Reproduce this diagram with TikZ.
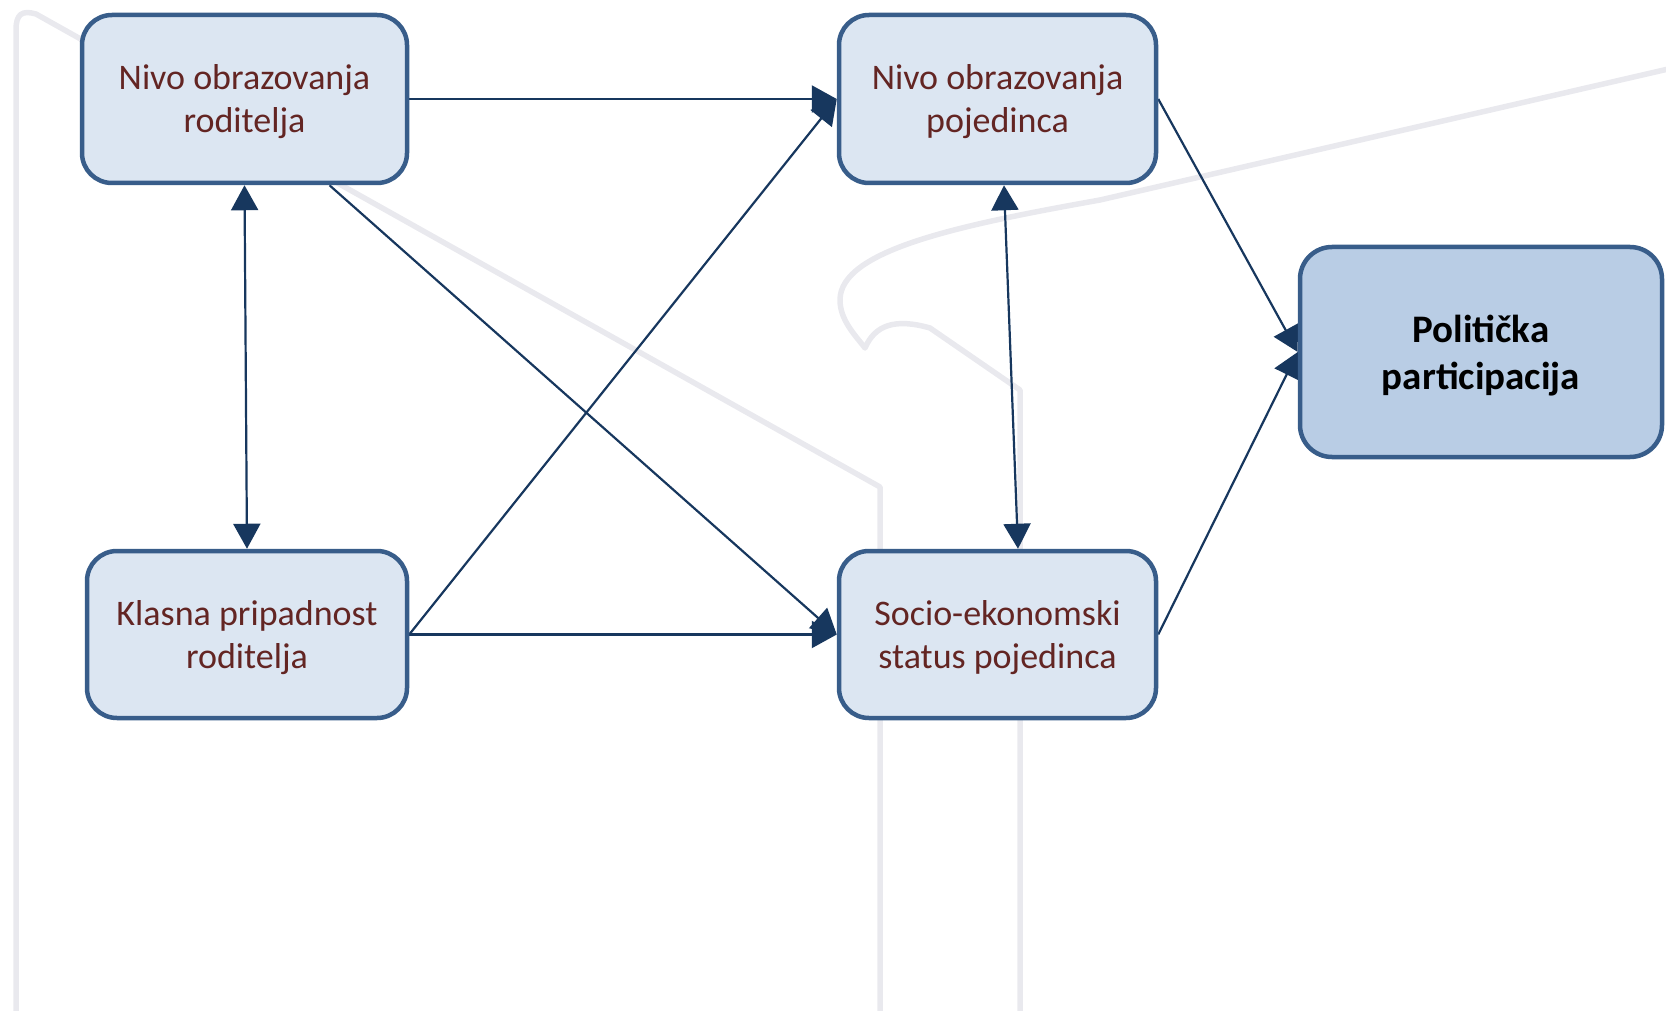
\documentclass[tikz,border=0pt]{standalone}
\usepackage{fontspec}
\setmainfont{Carlito}
\usetikzlibrary{arrows.meta}
\definecolor{boxborder}{HTML}{385D8A}
\definecolor{boxfill}{HTML}{DCE6F2}
\definecolor{keyfill}{HTML}{B9CDE5}
\definecolor{txt}{HTML}{632523}
\definecolor{arr}{HTML}{17375E}
\definecolor{wmgrey}{HTML}{E9E9EE}
\pgfdeclarelayer{wmlayer}
\pgfdeclarelayer{edgelayer}
\pgfsetlayers{wmlayer,edgelayer,main}
\tikzset{
 box/.style={draw=boxborder, line width=4.5pt, fill=boxfill, rounded corners=30pt, align=center, text=txt, font=\fontsize{36}{43}\selectfont, inner sep=0pt, text depth=0pt},
 keybox/.style={box, fill=keyfill, rounded corners=32pt, text=black, font=\fontsize{39}{47}\selectfont\bfseries},
 link/.style={draw=arr, line width=2.2pt, -{Triangle[length=25pt,width=27pt]}},
 twoway/.style={draw=arr, line width=2.2pt, {Triangle[length=25pt,width=27pt]}-{Triangle[length=25pt,width=27pt]}},
 wmline/.style={draw=wmgrey, line width=5.5pt, line join=round, line cap=round}
}
\begin{document}
\begin{tikzpicture}[x=1pt,y=-1pt]
\useasboundingbox (0,0) rectangle (1666,1011);
\node[box, minimum width=325pt, minimum height=168pt] (A) at (244.5,99) {Nivo obrazovanja\\roditelja};
\node[box, minimum width=317pt, minimum height=168pt] (B) at (997.5,99) {Nivo obrazovanja\\pojedinca};
\node[box, minimum width=320pt, minimum height=167pt] (C) at (247,634.5) {Klasna pripadnost\\roditelja};
\node[box, minimum width=317pt, minimum height=167pt] (D) at (997.5,634.5) {Socio-ekonomski\\status pojedinca};
\node[keybox, minimum width=362pt, minimum height=210pt] (E) at (1481,352) {Politička\\participacija};
\begin{pgfonlayer}{wmlayer}
\begin{scope}
\clip (0,0) rectangle (1666,1011);
\draw[wmline] (16,1030) -- (16,30) .. controls (16,14) and (22,10) .. (36,14) -- (880,487) -- (880,1030);
\draw[wmline] (1690,64) -- (1100,200) .. controls (960,225) and (840,250) .. (840,300) .. controls (840,320) and (855,335) .. (865,348) .. controls (875,325) and (895,318) .. (930,328) -- (1020,390) -- (1020,1030);
\end{scope}
\end{pgfonlayer}
\begin{pgfonlayer}{edgelayer}
\draw[link] (A.east) -- (B.west);
\draw[link] (C.east) -- (D.west);
\draw[twoway] (A.south) -- (C.north);
\draw[link] ([xshift=85pt]A.south) -- (D.west);
\draw[link] (C.east) -- (B.west);
\draw[twoway] ([xshift=6.5pt]B.south) -- ([xshift=20.5pt]D.north);
\draw[link] (B.east) -- (E.west);
\draw[link] (D.east) -- (E.west);
\end{pgfonlayer}
\end{tikzpicture}
\end{document}
